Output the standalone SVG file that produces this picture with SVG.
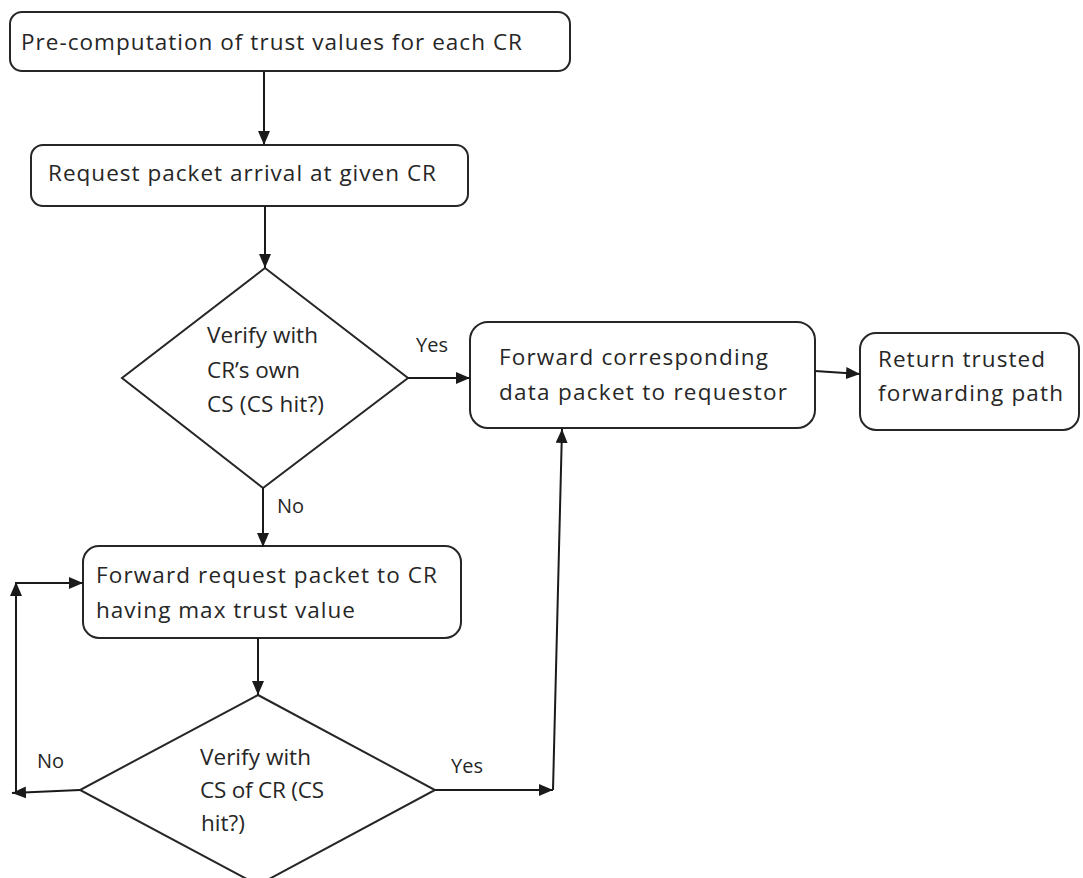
<svg xmlns="http://www.w3.org/2000/svg" width="1083" height="878" viewBox="0 0 1083 878">
<defs>
<style>
.box{fill:#ffffff;stroke:#262626;stroke-width:2}
.t{font-family:"Open Sans","Liberation Sans",Arial,sans-serif;font-size:22.5px;fill:#262626}
.lbl{font-family:"Open Sans","Liberation Sans",Arial,sans-serif;font-size:20px;fill:#262626}
.c{stroke:#1a1a1a;stroke-width:2;fill:none;marker-end:url(#ah)}
</style>
<marker id="ah" viewBox="0 0 14 12" refX="14" refY="6" markerWidth="14" markerHeight="12" orient="auto" markerUnits="userSpaceOnUse">
<path d="M0,0 L14,6 L0,12 z" fill="#1a1a1a"/>
</marker>
</defs>
<rect width="1083" height="878" fill="#ffffff"/>
<g id="n1">
<rect class="box" x="10" y="12" width="560" height="59" rx="12"/>
<text class="t" x="21" y="50" textLength="501">Pre-computation of trust values for each CR</text>
</g>
<g id="n2">
<rect class="box" x="31" y="145" width="437" height="61" rx="12"/>
<text class="t" x="48" y="181" textLength="388">Request packet arrival at given CR</text>
</g>
<g id="n3">
<polygon class="box" points="265,268 408,378 263,488 122,378"/>
<text class="t" x="207" y="343" textLength="111">Verify with</text>
<text class="t" x="207" y="378" textLength="93">CR’s own</text>
<text class="t" x="207" y="412" textLength="117">CS (CS hit?)</text>
</g>
<g id="n4">
<rect class="box" x="470" y="322" width="345" height="106" rx="18"/>
<text class="t" x="499" y="365" textLength="269">Forward corresponding</text>
<text class="t" x="499" y="400" textLength="288">data packet to requestor</text>
</g>
<g id="n5">
<rect class="box" x="860" y="333" width="219" height="97" rx="16"/>
<text class="t" x="878" y="367" textLength="167">Return trusted</text>
<text class="t" x="878" y="401" textLength="185">forwarding path</text>
</g>
<g id="n6">
<rect class="box" x="83" y="546" width="378" height="92" rx="16"/>
<text class="t" x="96" y="583" textLength="341">Forward request packet to CR</text>
<text class="t" x="96" y="618" textLength="259">having max trust value</text>
</g>
<g id="n7">
<polygon class="box" points="258,695 435,790 258,885 80,790"/>
<text class="t" x="200" y="765" textLength="111">Verify with</text>
<text class="t" x="200" y="798" textLength="124">CS of CR (CS</text>
<text class="t" x="201" y="831" textLength="44">hit?)</text>
</g>
<g id="connectors">
<line class="c" x1="264" y1="71" x2="264" y2="145"/>
<line class="c" x1="265" y1="206" x2="265" y2="268"/>
<line class="c" x1="408" y1="378" x2="470" y2="378"/>
<line class="c" x1="263" y1="488" x2="263" y2="547"/>
<line class="c" x1="815" y1="371" x2="860" y2="374"/>
<line class="c" x1="258" y1="638" x2="258" y2="695"/>
<line class="c" x1="80" y1="790" x2="12" y2="793"/>
<line class="c" x1="16" y1="793" x2="16" y2="582"/>
<line class="c" x1="16" y1="583" x2="83" y2="583"/>
<line class="c" x1="435" y1="790" x2="553" y2="790"/>
<line class="c" x1="553" y1="790" x2="562" y2="429"/>
<text class="lbl" x="416" y="352">Yes</text>
<text class="lbl" x="277" y="513">No</text>
<text class="lbl" x="37" y="768">No</text>
<text class="lbl" x="451" y="773">Yes</text>
</g>
</svg>
